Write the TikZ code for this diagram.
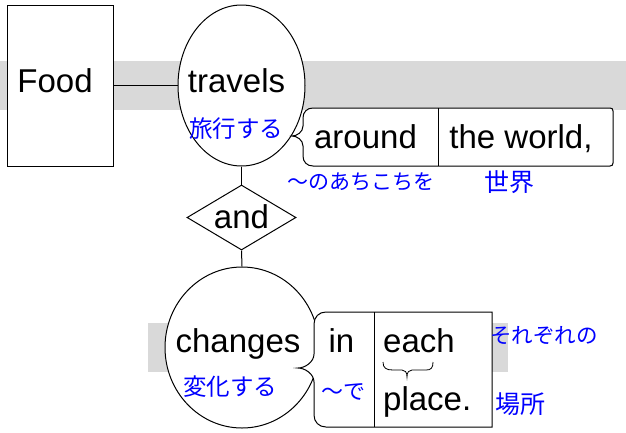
\documentclass[tikz,border=0pt]{standalone}
\usepackage{fontspec}
\setmainfont{Liberation Sans}
\newfontfamily\jp{Noto Sans CJK JP}
\usetikzlibrary{shapes.geometric}
\definecolor{band}{RGB}{217,217,217}
\definecolor{jblue}{RGB}{0,0,255}
\tikzset{
  en/.style={inner sep=0pt, anchor=base, font=\fontsize{33}{36}\selectfont},
  ja/.style={inner sep=0pt, anchor=center, text=jblue, font=\jp\fontsize{#1}{24}\selectfont},
  ja/.default=22,
  ln/.style={line width=1pt, draw=black},
  shp/.style={ln, fill=white}
}
\begin{document}
\begin{tikzpicture}[x=1pt,y=-1pt]
\useasboundingbox (0,0) rectangle (626,432);
% gray bands
\fill[band] (0,61) rectangle (626,110);
\fill[band] (148,323) rectangle (508,372);
% shapes
\node[shp, rectangle, minimum width=106pt, minimum height=161pt, inner sep=0pt] (food) at (60,85.5) {};
\node[shp, ellipse, minimum width=127pt, minimum height=161pt, inner sep=0pt] (travels) at (241.5,85.5) {};
\node[shp, diamond, minimum width=109pt, minimum height=65pt, inner sep=0pt, aspect=1.68] (and) at (241.5,217.5) {};
\node[shp, ellipse, minimum width=154pt, minimum height=161pt, inner sep=0pt] (changes) at (242,347.5) {};
% connectors
\draw[ln] (food.east) -- (travels.west);
\draw[ln] (travels.south) -- (and.north);
\draw[ln] (and.south) -- (changes.north);
% around box
\draw[shp] (313,166) .. controls (307,166) and (303,162) .. (303,156) -- (303,146)
  .. controls (303,140) and (297,136) .. (292,136)
  .. controls (297,136) and (303,132) .. (303,126) -- (303,118)
  .. controls (303,112) and (307,108) .. (313,108) -- (610,108)
  .. controls (612,108) and (613,109) .. (613,111) -- (613,163)
  .. controls (613,165) and (612,166) .. (610,166) -- cycle;
\coordinate (d1a) at (438,108);
\coordinate (d1b) at (438,166);
\draw[ln] (d1a) -- (d1b);
% in box
\draw[shp] (326,427) .. controls (319,427) and (314,422) .. (314,415) -- (314,382)
  .. controls (314,374) and (305,368) .. (298,368)
  .. controls (305,368) and (314,362) .. (314,354) -- (314,324)
  .. controls (314,317) and (319,312) .. (326,312) -- (492,312) -- (492,427) -- cycle;
\coordinate (d2a) at (374,312);
\coordinate (d2b) at (374,427);
\draw[ln] (d2a) -- (d2b);
% brace under each
\draw[line width=0.8pt] (383,362) .. controls (383,368) and (386,370) .. (393,370) -- (402,370)
  .. controls (405,370) and (407,372) .. (407,377)
  .. controls (407,372) and (409,370) .. (412,370) -- (426,370)
  .. controls (431,370) and (433,368) .. (433,362);
% English text
\node[en] (tfood) at (55,92) {Food};
\node[en] (ttravels) at (236.5,92) {travels};
\node[en] (taround) at (365.5,148) {around};
\node[en] (tworld) at (521,148) {the world,};
\node[en] (tand) at (241.5,228) {and};
\node[en] (tchanges) at (238,352) {changes};
\node[en] (tin) at (341.5,352) {in};
\node[en, anchor=base west] (teach) at (383,352) {each};
\node[en, anchor=base west] (tplace) at (383,410) {place.};
% Japanese text
\node[ja=23.5] (j1) at (236,129) {旅行する};
\node[ja=21] (j2) at (361,182) {〜のあちこちを};
\node[ja=25] (j3) at (509,182) {世界};
\node[ja=23.5] (j4) at (230,387) {変化する};
\node[ja=22] (j5) at (343,392) {〜で};
\node[ja=21.5] (j6) at (544,336) {それぞれの};
\node[ja=25] (j7) at (520,404) {場所};
\end{tikzpicture}
\end{document}
